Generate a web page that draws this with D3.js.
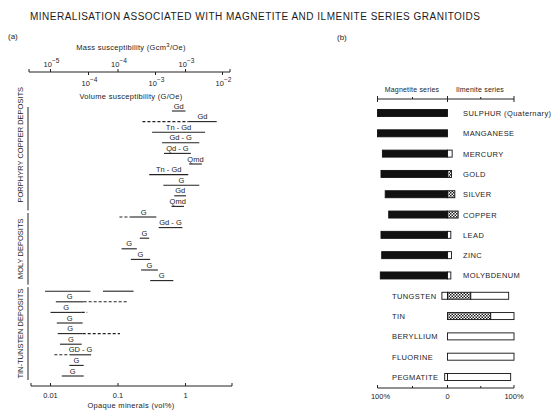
<!DOCTYPE html>
<html>
<head>
<meta charset="utf-8">
<script src="https://cdn.jsdelivr.net/npm/d3@7"></script>
<style>
  body { margin: 0; background: #fff; }
  svg { display: block; }
  text { font-family: "Liberation Sans", Arial, Helvetica, sans-serif; fill: #1c1c1c; }
</style>
</head>
<body>
<svg id="chart" width="557" height="411"></svg>
<script>
// ---- Panel (a): opaque mineral content of granitoids per deposit ----
const rockLabels = [
  "Gd", "Gd", "Tn - Gd", "Gd - G", "Qd - G", "Qmd", "Tn - Gd", "G", "Gd", "Qmd",
  "G", "Gd - G", "G", "G", "G", "G", "G",
  "", "G", "G", "G", "G", "G", "GD - G", "G", "G"
];
// solid ranges (vol%), one or more per deposit
const solidRanges = [
  [[0.63, 1.0]], [[1.1, 2.9]], [[0.32, 1.95]], [[0.45, 1.6]], [[0.48, 1.2]],
  [[1.13, 1.75]], [[0.29, 1.1]], [[0.47, 1.6]], [[0.68, 1.02]], [[0.62, 0.95]],
  [[0.156, 0.37]], [[0.40, 0.90]], [[0.21, 0.29]], [[0.113, 0.19]], [[0.155, 0.30]],
  [[0.22, 0.39]], [[0.30, 0.66]],
  [[0.0083, 0.039], [0.06, 0.17]], [[0.012, 0.031]], [[0.010, 0.029]], [[0.0124, 0.030]],
  [[0.0128, 0.030]], [[0.0138, 0.029]], [[0.0194, 0.040]], [[0.019, 0.031]], [[0.0147, 0.031]]
];
// dashed (uncertain) extensions
const dashedRanges = [
  [], [[0.23, 1.1]], [], [], [], [], [], [], [], [],
  [[0.105, 0.156]], [], [], [], [], [], [],
  [], [[0.031, 0.135]], [[0.029, 0.035]], [], [[0.030, 0.107]], [], [[0.0114, 0.0194]], [], []
];
const depositGroups = ["PORPHYRY COPPER DEPOSITS", "MOLY DEPOSITS", "TIN-TUNSTEN DEPOSITS"];
const groupFirstRow = [0, 10, 17];
const groupLastRow = [9, 16, 25];

const opaqueTicks = [0.01, 0.1, 1];
const opaqueTickLabels = ["0.01", "0.1", "1"];
const massTicks = [1e-5, 1e-4, 1e-3];
const massExponents = ["5", "4", "3"];
const volumeTicks = [1e-4, 1e-3, 1e-2];
const volumeExponents = ["4", "3", "2"];

// ---- Panel (b): share of deposits related to each granitoid series (%) ----
const elements = ["SULPHUR (Quaternary)", "MANGANESE", "MERCURY", "GOLD", "SILVER", "COPPER",
  "LEAD", "ZINC", "MOLYBDENUM", "TUNGSTEN", "TIN", "BERYLLIUM", "FLUORINE", "PEGMATITE"];
const magnetiteSolid = [100, 100, 93, 95, 89, 84, 95, 94, 96, 0, 0, 0, 0, 0];
const magnetiteOpen  = [0, 0, 0, 0, 0, 0, 0, 0, 0, 8, 0, 0, 0, 4];
const ilmeniteHatched = [0, 0, 0, 6, 11, 16, 0, 0, 0, 35, 65, 0, 0, 0];
const ilmeniteOpen    = [0, 0, 7, 0, 0, 0, 5, 6, 5, 57, 35, 100, 100, 95];
const labelOnLeft = [false, false, false, false, false, false, false, false, false, true, true, true, true, true];
const seriesTicks = [-100, -50, 0, 50, 100];

const svg = d3.select("#chart");

const defs = svg.append("defs");
const pat = defs.append("pattern").attr("id", "check").attr("patternUnits", "userSpaceOnUse")
  .attr("width", 3).attr("height", 3);
pat.append("rect").attr("width", 3).attr("height", 3).attr("fill", "#fff");
pat.append("rect").attr("width", 1.5).attr("height", 1.5).attr("fill", "#222");
pat.append("rect").attr("x", 1.5).attr("y", 1.5).attr("width", 1.5).attr("height", 1.5).attr("fill", "#222");

// Title and panel letters
svg.append("text").attr("x", 255).attr("y", 20).attr("text-anchor", "middle")
  .attr("font-size", 10).attr("textLength", 450).attr("lengthAdjust", "spacing")
  .text("MINERALISATION ASSOCIATED WITH MAGNETITE AND ILMENITE SERIES GRANITOIDS");
svg.append("text").attr("x", 8).attr("y", 39).attr("font-size", 8).text("(a)");
svg.append("text").attr("x", 337).attr("y", 40).attr("font-size", 8).text("(b)");

// ---- Panel (a) ----
const x = d3.scaleLog().domain([0.01, 1]).range([50.5, 185.5]);
const xMass = d3.scaleLog().domain([1e-5, 1e-3]).range([50.5, 185.5]);
const xVol = d3.scaleLog().domain([1e-4, 1e-2]).range([88.5, 222.5]);
const y = d3.scaleLinear().domain([0, rockLabels.length - 1]).range([111, 376]);

const ga = svg.append("g");

// top susceptibility axis
const topY = 72;
ga.append("line").attr("x1", 29).attr("x2", 230).attr("y1", topY).attr("y2", topY)
  .attr("stroke", "#222").attr("stroke-width", 1);
ga.selectAll(".endtick").data([29, 230]).join("line")
  .attr("x1", d => d).attr("x2", d => d).attr("y1", topY - 3).attr("y2", topY)
  .attr("stroke", "#222");
ga.selectAll(".mtick").data(massTicks).join("line")
  .attr("x1", d => xMass(d)).attr("x2", d => xMass(d)).attr("y1", topY - 3).attr("y2", topY)
  .attr("stroke", "#222");
ga.selectAll(".vtick").data(volumeTicks).join("line")
  .attr("x1", d => xVol(d)).attr("x2", d => xVol(d)).attr("y1", topY).attr("y2", topY + 3)
  .attr("stroke", "#222");

function powerLabel(g, px, py, exp) {
  const t = g.append("text").attr("x", px).attr("y", py).attr("text-anchor", "middle").attr("font-size", 7.5);
  t.append("tspan").text("10");
  t.append("tspan").attr("dy", -4).attr("font-size", 6.5).text("\u2212" + exp);
}
massTicks.forEach((d, i) => powerLabel(ga, xMass(d) + 1, 67, massExponents[i]));
volumeTicks.forEach((d, i) => powerLabel(ga, xVol(d) + 1, 86, volumeExponents[i]));

const massTitle = ga.append("text").attr("x", 131).attr("y", 50).attr("text-anchor", "middle")
  .attr("font-size", 7.5).attr("letter-spacing", 0.3);
massTitle.append("tspan").text("Mass susceptibility (Gcm");
massTitle.append("tspan").attr("dy", -3).attr("font-size", 6).text("3");
massTitle.append("tspan").attr("dy", 3).text("/Oe)");
ga.append("text").attr("x", 131).attr("y", 99).attr("text-anchor", "middle")
  .attr("font-size", 7.5).attr("letter-spacing", 0.3).text("Volume susceptibility (G/Oe)");

// bottom opaque-mineral axis
const botY = 386;
ga.append("line").attr("x1", 31).attr("x2", 232).attr("y1", botY).attr("y2", botY).attr("stroke", "#222");
ga.selectAll(".btick").data(opaqueTicks).join("line")
  .attr("x1", d => x(d)).attr("x2", d => x(d)).attr("y1", botY - 3).attr("y2", botY).attr("stroke", "#222");
ga.selectAll(".bend").data([31, 232]).join("line")
  .attr("x1", d => d).attr("x2", d => d).attr("y1", botY - 3).attr("y2", botY).attr("stroke", "#222");
ga.selectAll(".blabel").data(opaqueTicks).join("text")
  .attr("x", d => x(d)).attr("y", 398).attr("text-anchor", "middle").attr("font-size", 7.5)
  .text((d, i) => opaqueTickLabels[i]);
ga.append("text").attr("x", 131).attr("y", 408).attr("text-anchor", "middle")
  .attr("font-size", 7.5).attr("letter-spacing", 0.3).text("Opaque minerals (vol%)");

// deposit rows
rockLabels.forEach((lab, i) => {
  const yy = y(i);
  solidRanges[i].forEach(r => {
    ga.append("line").attr("x1", x(r[0])).attr("x2", x(r[1])).attr("y1", yy).attr("y2", yy)
      .attr("stroke", "#222").attr("stroke-width", 1.1);
  });
  dashedRanges[i].forEach(r => {
    ga.append("line").attr("x1", x(r[0])).attr("x2", x(r[1])).attr("y1", yy).attr("y2", yy)
      .attr("stroke", "#222").attr("stroke-width", 1.1).attr("stroke-dasharray", "3,2");
  });
  if (lab) {
    const r = solidRanges[i][0];
    const cx = (x(r[0]) + x(r[1])) / 2;
    ga.append("text").attr("x", cx).attr("y", yy - 2.5).attr("text-anchor", "middle")
      .attr("font-size", 7.5).text(lab);
  }
});

// deposit group brackets and vertical labels
depositGroups.forEach((name, k) => {
  const y0 = y(groupFirstRow[k]) - 4, y1 = y(groupLastRow[k]) + 4;
  ga.append("line").attr("x1", 28).attr("x2", 28).attr("y1", y0).attr("y2", y1)
    .attr("stroke", "#222").attr("stroke-width", 1);
  const cy = (y0 + y1) / 2 + (k === 0 ? -14 : 0);
  ga.append("text").attr("transform", `translate(23,${cy}) rotate(-90)`)
    .attr("text-anchor", "middle").attr("font-size", 7.5).text(name);
});

// ---- Panel (b) ----
const xs = d3.scaleLinear().domain([-100, 0, 100]).range([377.5, 447.5, 514]);
const yb = d3.scaleLinear().domain([0, elements.length - 1]).range([113, 377]);
const barH = 7;
const gb = svg.append("g");

function seriesAxis(ay, up) {
  gb.append("line").attr("x1", xs(-100)).attr("x2", xs(100)).attr("y1", ay).attr("y2", ay).attr("stroke", "#222");
  gb.selectAll(null).data(seriesTicks).join("line")
    .attr("x1", d => xs(d)).attr("x2", d => xs(d))
    .attr("y1", d => (d % 100 === 0 ? ay - 3 : ay - 2))
    .attr("y2", d => (d % 100 === 0 ? ay + (up ? 0 : 3) : ay))
    .attr("stroke", "#222");
}
seriesAxis(99, false);
seriesAxis(388, true);

gb.append("text").attr("x", 412).attr("y", 92).attr("text-anchor", "middle").attr("font-size", 7)
  .attr("letter-spacing", 0.2).text("Magnetite series");
gb.append("text").attr("x", 480).attr("y", 92).attr("text-anchor", "middle").attr("font-size", 7)
  .attr("letter-spacing", 0.2).text("Ilmenite series");

gb.append("text").attr("x", xs(-100) + 3).attr("y", 399).attr("text-anchor", "middle").attr("font-size", 7.5).text("100%");
gb.append("text").attr("x", xs(0)).attr("y", 399).attr("text-anchor", "middle").attr("font-size", 7.5).text("0");
gb.append("text").attr("x", xs(100)).attr("y", 399).attr("text-anchor", "middle").attr("font-size", 7.5).text("100%");

elements.forEach((name, i) => {
  const cy = yb(i), top = cy - barH / 2;
  const segs = [];
  if (magnetiteOpen[i] > 0) segs.push([-(magnetiteSolid[i] + magnetiteOpen[i]), -magnetiteSolid[i], "#fff"]);
  if (magnetiteSolid[i] > 0) segs.push([-magnetiteSolid[i], 0, "#111"]);
  if (ilmeniteHatched[i] > 0) segs.push([0, ilmeniteHatched[i], "url(#check)"]);
  if (ilmeniteOpen[i] > 0) segs.push([ilmeniteHatched[i], ilmeniteHatched[i] + ilmeniteOpen[i], "#fff"]);
  gb.selectAll(null).data(segs).join("rect")
    .attr("x", d => xs(d[0])).attr("width", d => xs(d[1]) - xs(d[0]))
    .attr("y", top).attr("height", barH)
    .attr("fill", d => d[2]).attr("stroke", "#111").attr("stroke-width", 0.9);
  gb.append("text")
    .attr("x", labelOnLeft[i] ? 392 : 463).attr("y", cy + 3)
    .attr("font-size", 7.5).attr("letter-spacing", 0.4).text(name);
});
</script>
</body>
</html>
